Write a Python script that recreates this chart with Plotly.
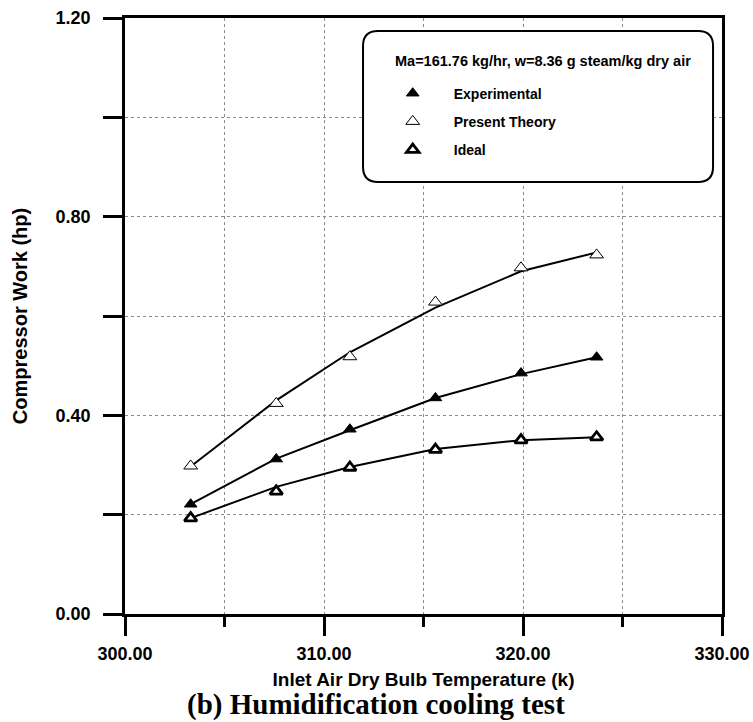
import plotly.graph_objects as go

# ---- data ----
temps = [303.3, 307.6, 311.3, 315.6, 319.9, 323.7]
exp_vals = [0.221, 0.312, 0.372, 0.435, 0.485, 0.517]
theory_vals = [0.298, 0.424, 0.518, 0.628, 0.697, 0.723]
ideal_vals = [0.193, 0.247, 0.295, 0.331, 0.350, 0.356]
# fitted curves drawn through the same temperatures
exp_fit = [0.221, 0.313, 0.370, 0.435, 0.483, 0.517]
theory_fit = [0.297, 0.430, 0.527, 0.617, 0.690, 0.728]
ideal_fit = [0.193, 0.256, 0.296, 0.332, 0.350, 0.356]

x_major = [300, 310, 320, 330]
x_minor = [305, 315, 325]
y_ticks = [0.0, 0.2, 0.4, 0.6, 0.8, 1.0, 1.2]
y_labels = ["0.00", "", "0.40", "", "0.80", "", "1.20"]
legend_title = "Ma=161.76 kg/hr, w=8.36 g steam/kg dry air"

SANS = "Liberation Sans, Arial, sans-serif"
SERIF = "Liberation Serif, Times New Roman, serif"

fig = go.Figure()

for fit in (theory_fit, exp_fit, ideal_fit):
    fig.add_trace(go.Scatter(x=temps, y=fit, mode="lines",
                             line=dict(color="black", width=2),
                             showlegend=False, hoverinfo="skip"))

fig.add_trace(go.Scatter(x=temps, y=exp_vals, mode="markers", name="Experimental",
                         legendgroup="a",
                         marker=dict(symbol="triangle-up", size=11, color="black",
                                     line=dict(color="black", width=1))))
fig.add_trace(go.Scatter(x=temps, y=theory_vals, mode="markers", name="Present Theory",
                         legendgroup="b",
                         marker=dict(symbol="triangle-up", size=12, color="white",
                                     line=dict(color="black", width=1))))
fig.add_trace(go.Scatter(x=temps, y=ideal_vals, mode="markers", name="Ideal",
                         legendgroup="c",
                         marker=dict(symbol="triangle-up", size=11, color="white",
                                     line=dict(color="black", width=2.8))))

# rounded legend box (paper coordinates)
x0, x1, y0, y1 = 0.3987, 0.985, 0.725, 0.978
rx, ry = 0.025, 0.025
path = (f"M {x0+rx},{y1} L {x1-rx},{y1} Q {x1},{y1} {x1},{y1-ry} "
        f"L {x1},{y0+ry} Q {x1},{y0} {x1-rx},{y0} L {x0+rx},{y0} "
        f"Q {x0},{y0} {x0},{y0+ry} L {x0},{y1-ry} Q {x0},{y1} {x0+rx},{y1} Z")
fig.add_shape(type="path", path=path, xref="paper", yref="paper",
              line=dict(color="black", width=2), fillcolor="white", layer="above")

fig.add_annotation(text=legend_title, xref="paper", yref="paper",
                   x=0.700, y=0.928, xanchor="center", yanchor="middle", showarrow=False,
                   font=dict(family=SANS, size=14.5, color="black", weight="bold"))

fig.add_annotation(text="(b) Humidification cooling test", xref="paper", yref="paper",
                   x=0.42, y=-0.152, xanchor="center", yanchor="middle", showarrow=False,
                   font=dict(family=SERIF, size=29, color="black", weight="bold"))

axis_common = dict(showline=True, linecolor="black", linewidth=2.5, mirror=True,
                   ticks="outside", tickcolor="black", tickwidth=2.5, ticklen=19,
                   showgrid=True, gridcolor="#8a8a8a", gridwidth=1, griddash="dot",
                   zeroline=False, automargin=False,
                   tickfont=dict(family=SANS, size=18, color="black", weight="bold"))

fig.update_layout(
    width=753, height=722,
    margin=dict(l=125, r=31, t=18, b=108),
    paper_bgcolor="white", plot_bgcolor="white",
    xaxis=dict(range=[300, 330], tickvals=x_major, tickformat=".2f", ticklabelstandoff=3,
               minor=dict(tickvals=x_minor, ticks="outside", ticklen=10, tickwidth=2.5,
                          tickcolor="black", showgrid=True, gridcolor="#8a8a8a",
                          griddash="dot", gridwidth=1),
               title=dict(text="Inlet Air Dry Bulb Temperature (k)", standoff=10,
                          font=dict(family=SANS, size=19, color="black", weight="bold")),
               **axis_common),
    yaxis=dict(range=[0, 1.2], tickvals=y_ticks, ticktext=y_labels, ticklabelstandoff=9,
               title=dict(text="Compressor Work (hp)", standoff=23,
                          font=dict(family=SANS, size=20, color="black", weight="bold")),
               **axis_common),
    legend=dict(x=0.4133, y=0.90, xanchor="left", yanchor="top",
                bgcolor="rgba(0,0,0,0)", borderwidth=0,
                tracegroupgap=7, itemwidth=72,
                font=dict(family=SANS, size=14, color="black", weight="bold")),
)

fig.write_html("out.html", config={"displayModeBar": False},
               post_script="document.body.style.margin='0';document.body.style.overflow='hidden';")
